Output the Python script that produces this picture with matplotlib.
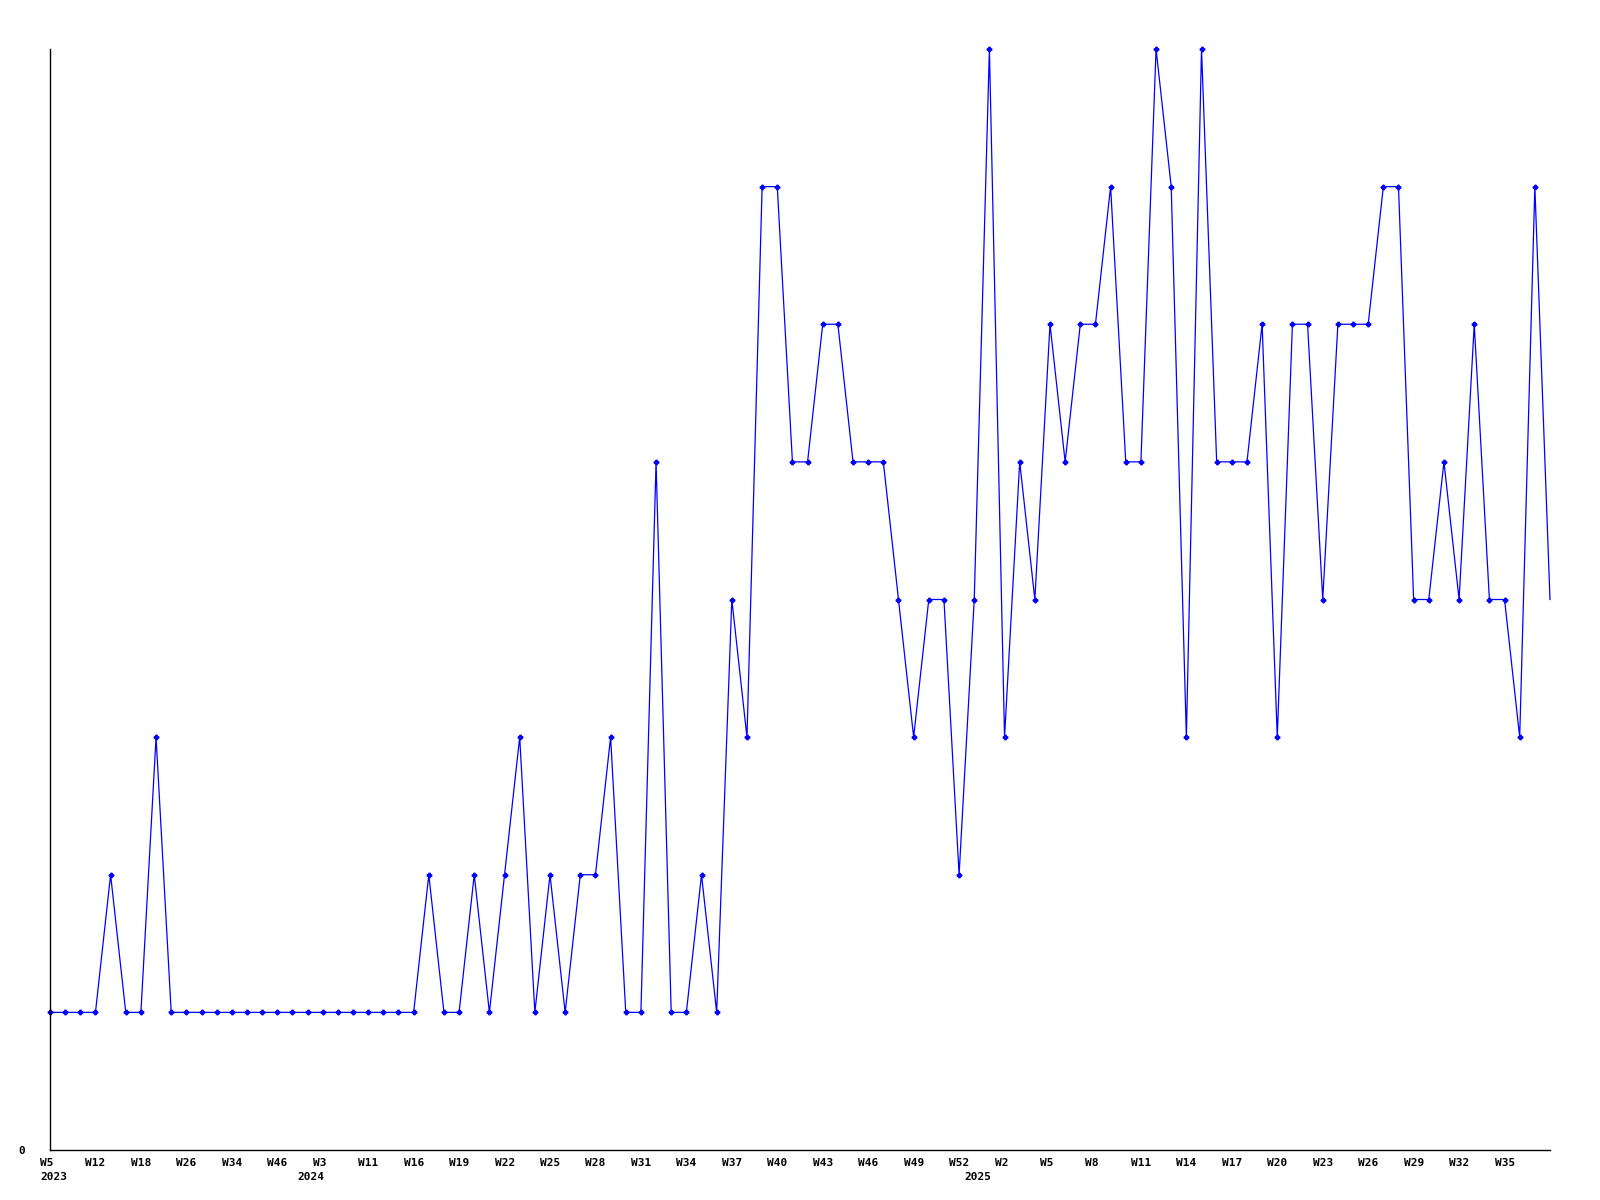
import matplotlib
matplotlib.use("Agg")
import matplotlib.pyplot as plt
import matplotlib.transforms as mtransforms

# weekly counts, one point per week with data
counts = [1, 1, 1, 1, 2, 1, 1, 3, 1, 1,
          1, 1, 1, 1, 1, 1, 1, 1, 1, 1,
          1, 1, 1, 1, 1, 2, 1, 1, 2, 1,
          2, 3, 1, 2, 1, 2, 2, 3, 1, 1,
          5, 1, 1, 2, 1, 4, 3, 7, 7, 5,
          5, 6, 6, 5, 5, 5, 4, 3, 4, 4,
          2, 4, 8, 3, 5, 4, 6, 5, 6, 6,
          7, 5, 5, 8, 7, 3, 8, 5, 5, 5,
          6, 3, 6, 6, 4, 6, 6, 6, 7, 7,
          4, 4, 5, 4, 6, 4, 4, 3, 7, 4]

week_labels = ["W5", "W12", "W18", "W26", "W34", "W46", "W3", "W11", "W16",
               "W19", "W22", "W25", "W28", "W31", "W34", "W37", "W40", "W43",
               "W46", "W49", "W52", "W2", "W5", "W8", "W11", "W14", "W17",
               "W20", "W23", "W26", "W29", "W32", "W35"]
week_idx = list(range(0, 99, 3))

years = ["2023", "2024", "2025"]
year_idx = [0, 17, 61]

FONT = "DejaVu Sans Mono"

fig = plt.figure(figsize=(16, 12), dpi=100, facecolor="white")
ax = fig.add_axes([50 / 1600, 50 / 1200, 1500 / 1600, 1101 / 1200])

x = list(range(len(counts)))
ax.plot(x, counts, color="#0000FF", linewidth=0.9,
        marker="P", markersize=3.2, markevery=list(range(len(counts) - 1)),
        clip_on=False)

ax.set_xlim(0, len(counts) - 1)
ax.set_ylim(0, 8)

for s in ["top", "right"]:
    ax.spines[s].set_visible(False)
for s in ["left", "bottom"]:
    ax.spines[s].set_color("black")
    ax.spines[s].set_linewidth(1.0)

ax.set_yticks([0], ["0"])
ax.tick_params(axis="y", length=0, pad=18)
ax.set_xticks(week_idx, week_labels)
ax.tick_params(axis="x", length=0, pad=5.5)

shift = mtransforms.ScaledTranslation(-0.10, 0, fig.dpi_scale_trans)
for lbl in ax.get_xticklabels():
    lbl.set_horizontalalignment("left")
    lbl.set_transform(lbl.get_transform() + shift)
for lbl in ax.get_xticklabels() + ax.get_yticklabels():
    lbl.set_fontfamily(FONT)
    lbl.set_fontweight("bold")
    lbl.set_fontsize(8)

# year labels on a second row
for yr, i in zip(years, year_idx):
    ax.annotate(yr, xy=(i, 0), xycoords=("data", "axes fraction"),
                xytext=(-7.2, -15.5), textcoords="offset points",
                ha="left", va="top", fontsize=8, fontweight="bold",
                family=FONT, annotation_clip=False)

fig.savefig("out.png", dpi=100, facecolor="white")
